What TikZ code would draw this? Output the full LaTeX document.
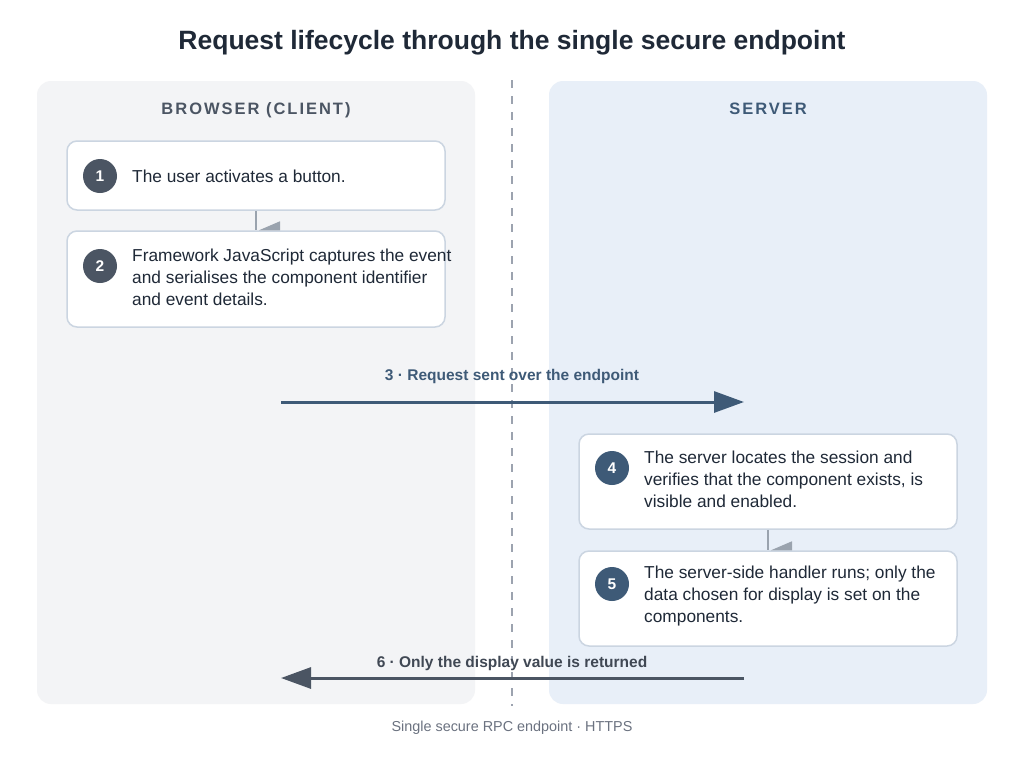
\documentclass[tikz,border=0pt]{standalone}
\usepackage{fontspec}
\setmainfont{Liberation Sans}
\usetikzlibrary{arrows.meta}
\definecolor{leftbg}{HTML}{F3F4F6}
\definecolor{rightbg}{HTML}{E8EFF8}
\definecolor{boxline}{HTML}{CBD5E1}
\definecolor{txt}{HTML}{1F2937}
\definecolor{grayc}{HTML}{4B5563}
\definecolor{bluec}{HTML}{3E5A77}
\definecolor{dashc}{HTML}{9CA3AF}
\definecolor{capc}{HTML}{6B7280}
\definecolor{conn}{HTML}{9AA3AE}
\tikzset{
  panel/.style={rounded corners=14pt, draw=none},
  stepbox/.style={draw=boxline, line width=1.5pt, fill=white, rounded corners=10pt,
    minimum width=378pt, inner sep=0pt},
  num/.style={circle, minimum size=34pt, inner sep=0pt, text=white,
    font=\fontsize{15.5}{15.5}\selectfont\bfseries},
  body/.style={anchor=west, align=left, inner sep=0pt, text=txt,
    font=\fontsize{17.3}{22}\selectfont},
  hdr/.style={anchor=base, font=\fontsize{16.5}{16.5}\selectfont\bfseries\addfontfeature{LetterSpace=12}},
  lbl/.style={anchor=base, font=\fontsize{15.5}{15.5}\selectfont\bfseries},
  flow/.style={line width=3pt, -{Triangle[length=30pt,width=21pt]}},
  connline/.style={draw=conn, line width=2pt},
}
\begin{document}
\begin{tikzpicture}[x=1pt,y=-1pt]
\useasboundingbox (0,0) rectangle (1024,756);
\fill[white] (0,0) rectangle (1024,756);
% title
\node[anchor=base, font=\fontsize{26.5}{26.5}\selectfont\bfseries, text=txt] (title) at (512,49) {Request lifecycle through the single secure endpoint};
% panels
\path[panel, fill=leftbg] (37,81) rectangle (475,704);
\path[panel, fill=rightbg] (549,81) rectangle (987,704);
\coordinate (dtop) at (512,80);
\coordinate (dbot) at (512,706);
\draw[dashc, line width=2pt, dash pattern=on 8pt off 8pt] (dtop) -- (dbot);
\node[hdr, text=grayc] (hl) at (256,114) {BROWSER (CLIENT)};
\node[hdr, text=bluec] (hr) at (768,114) {SERVER};
% step boxes
\node[stepbox, minimum height=69pt] (b1) at (256,175.5) {};
\node[stepbox, minimum height=96pt] (b2) at (256,279) {};
\node[stepbox, minimum height=95pt] (b4) at (768,481.5) {};
\node[stepbox, minimum height=95pt] (b5) at (768,598.5) {};
% numbers
\node[num, fill=grayc] (n1) at (100,176) {1};
\node[num, fill=grayc] (n2) at (100,266) {2};
\node[num, fill=bluec] (n4) at (612,468) {4};
\node[num, fill=bluec] (n5) at (612,584) {5};
% texts
\node[body] (t1) at (132,176) {The user activates a button.};
\node[body] (t2) at (132,277) {Framework JavaScript captures the event\\and serialises the component identifier\\and event details.};
\node[body] (t4) at (644,479) {The server locates the session and\\verifies that the component exists, is\\visible and enabled.};
\node[body] (t5) at (644,596) {The server-side handler runs; only the\\data chosen for display is set on the\\components.};
% small connectors
\draw[connline] (b1.south) -- (b2.north);
\fill[conn] ([xshift=3pt]b2.north) -- ([xshift=24pt]b2.north) -- ([xshift=24pt,yshift=9pt]b2.north) -- cycle;
\draw[connline] (b4.south) -- (b5.north);
\fill[conn] ([xshift=3pt]b5.north) -- ([xshift=24pt]b5.north) -- ([xshift=24pt,yshift=9pt]b5.north) -- cycle;
% flows
\coordinate (r3s) at (281,402);
\coordinate (r3e) at (744,402);
\draw[flow, bluec] (r3s) -- (r3e);
\node[lbl, text=bluec] (l3) at (512,380.5) {3 · Request sent over the endpoint};
\coordinate (r6s) at (744,678);
\coordinate (r6e) at (281,678);
\draw[flow, grayc] (r6s) -- (r6e);
\node[lbl, text=grayc!85!black] (l6) at (512,667.5) {6 · Only the display value is returned};
% caption
\node[anchor=base, font=\fontsize{14.4}{14.4}\selectfont, text=capc] (cap) at (512,731) {Single secure RPC endpoint · HTTPS};
\end{tikzpicture}
\end{document}
